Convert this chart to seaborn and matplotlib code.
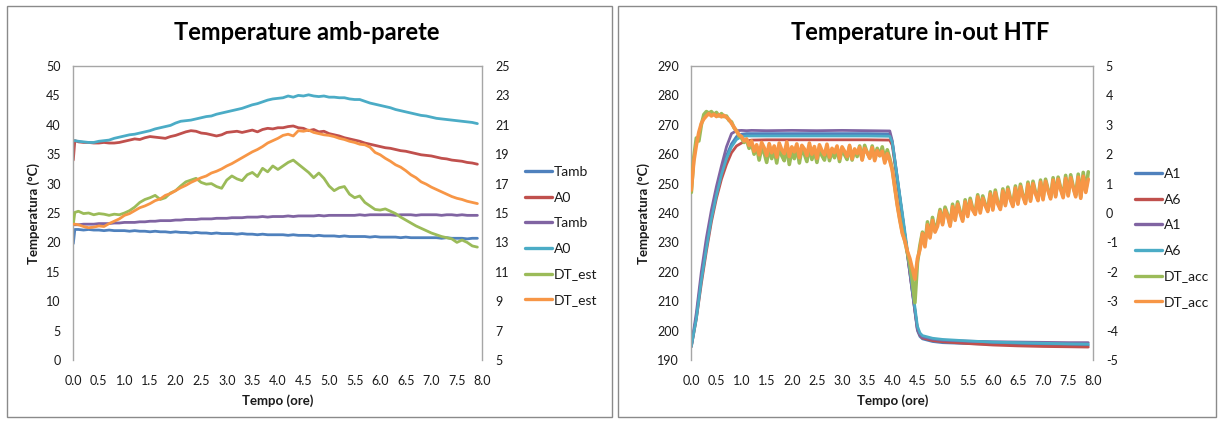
import numpy as np
import matplotlib
matplotlib.use("Agg")
import matplotlib.pyplot as plt
import seaborn as sns
from matplotlib.lines import Line2D
from matplotlib.patches import Rectangle

sns.set_style("white")
plt.rcParams["font.family"] = ["Lato", "DejaVu Sans"]
plt.rcParams["axes.unicode_minus"] = False

# ---------------- data: ambient / wall temperatures ----------------
T_AMB = np.concatenate([[0.0, 0.03], np.round(np.arange(1, 80) / 10, 1)])

TAMB_1 = [19.8, 22.2,
          22.2, 22.1, 22.2, 22.1, 22.1, 22.0, 22.1, 22.0, 22.0, 22.0,
          21.9, 22.0, 21.9, 21.9, 21.8, 21.9, 21.8, 21.8, 21.7, 21.8,
          21.7, 21.7, 21.6, 21.7, 21.6, 21.6, 21.5, 21.6, 21.5, 21.5,
          21.5, 21.4, 21.5, 21.4, 21.4, 21.3, 21.4, 21.3, 21.3, 21.3,
          21.3, 21.2, 21.3, 21.2, 21.2, 21.2, 21.1, 21.2, 21.1, 21.1,
          21.1, 21.0, 21.1, 21.0, 21.0, 21.0, 21.0, 20.9, 21.0, 20.9,
          20.9, 20.9, 20.9, 20.8, 20.9, 20.8, 20.8, 20.8, 20.8, 20.8,
          20.8, 20.7, 20.8, 20.7, 20.7, 20.7, 20.6, 20.7, 20.7]

A0_1 = [34.0, 37.3,
        37.1, 37.0, 37.0, 36.9, 36.9, 37.0, 36.9, 36.9, 37.0, 37.2,
        37.4, 37.6, 37.5, 37.8, 38.0, 37.9, 37.8, 37.7, 38.0, 38.2,
        38.5, 38.8, 39.0, 38.9, 38.6, 38.5, 38.3, 38.1, 38.3, 38.7,
        38.8, 38.9, 38.7, 38.9, 39.1, 38.8, 39.2, 39.4, 39.3, 39.5,
        39.5, 39.7, 39.8, 39.5, 39.4, 39.0, 39.2, 38.8, 38.9, 38.5,
        38.3, 38.1, 37.8, 37.6, 37.4, 37.2, 36.9, 36.7, 36.5, 36.3,
        36.1, 36.0, 35.8, 35.6, 35.5, 35.3, 35.1, 34.9, 34.8, 34.7,
        34.5, 34.3, 34.2, 34.0, 33.9, 33.8, 33.6, 33.5, 33.3]

TAMB_2 = [23.0, 23.0,
          23.0, 23.1, 23.1, 23.1, 23.2, 23.2, 23.2, 23.3, 23.3, 23.4,
          23.4, 23.4, 23.5, 23.5, 23.6, 23.6, 23.7, 23.7, 23.7, 23.8,
          23.8, 23.9, 23.9, 23.9, 24.0, 24.0, 24.0, 24.1, 24.1, 24.1,
          24.2, 24.2, 24.2, 24.3, 24.3, 24.3, 24.4, 24.3, 24.4, 24.4,
          24.4, 24.5, 24.4, 24.5, 24.5, 24.5, 24.5, 24.6, 24.5, 24.6,
          24.6, 24.6, 24.6, 24.6, 24.6, 24.7, 24.6, 24.7, 24.7, 24.7,
          24.7, 24.7, 24.6, 24.7, 24.7, 24.7, 24.6, 24.7, 24.7, 24.7,
          24.7, 24.6, 24.7, 24.7, 24.6, 24.7, 24.6, 24.6, 24.6]

A0_2 = [37.3, 37.3,
        37.2, 37.1, 37.0, 37.0, 37.2, 37.3, 37.4, 37.7, 37.9, 38.1,
        38.3, 38.4, 38.6, 38.8, 39.0, 39.3, 39.5, 39.7, 39.9, 40.3,
        40.6, 40.7, 40.8, 41.0, 41.2, 41.4, 41.5, 41.8, 42.0, 42.2,
        42.4, 42.6, 42.8, 43.1, 43.4, 43.6, 43.9, 44.2, 44.4, 44.5,
        44.6, 44.9, 44.7, 45.0, 44.9, 45.1, 44.9, 44.8, 44.9, 44.7,
        44.7, 44.6, 44.6, 44.4, 44.3, 44.3, 44.0, 43.7, 43.5, 43.3,
        43.1, 42.9, 42.6, 42.4, 42.2, 42.0, 41.8, 41.6, 41.5, 41.3,
        41.1, 41.0, 40.9, 40.8, 40.7, 40.6, 40.5, 40.4, 40.2]

# temperature differences (secondary axis)
DT_EST_1 = [14.24, 15.04,
            15.12, 14.96, 15.00, 14.88, 14.96, 14.92, 14.84, 14.92, 14.88, 15.00,
            15.16, 15.40, 15.72, 15.92, 16.04, 16.20, 15.92, 16.04, 16.36, 16.52,
            16.84, 17.12, 17.24, 17.36, 17.08, 16.96, 17.00, 16.80, 16.68, 17.24,
            17.52, 17.32, 17.20, 17.60, 17.76, 17.48, 18.04, 17.80, 18.20, 17.96,
            18.20, 18.44, 18.60, 18.32, 18.04, 17.76, 17.40, 17.72, 17.36, 16.84,
            16.52, 16.72, 16.80, 16.28, 16.04, 16.16, 15.72, 15.48, 15.24, 15.20,
            15.28, 15.12, 14.96, 14.72, 14.52, 14.32, 14.12, 13.96, 13.80, 13.64,
            13.52, 13.40, 13.32, 13.24, 13.00, 13.16, 13.00, 12.76, 12.68]

DT_EST_2 = [14.24, 14.24,
            14.20, 14.08, 14.00, 14.04, 14.12, 14.08, 14.28, 14.44, 14.60, 14.84,
            14.96, 15.16, 15.36, 15.48, 15.64, 15.84, 15.96, 16.20, 16.32, 16.52,
            16.72, 16.88, 17.08, 17.24, 17.40, 17.52, 17.72, 17.84, 18.00, 18.20,
            18.36, 18.56, 18.76, 18.96, 19.16, 19.32, 19.52, 19.76, 19.92, 20.08,
            20.28, 20.36, 20.24, 20.60, 20.56, 20.64, 20.48, 20.40, 20.32, 20.28,
            20.20, 20.08, 20.00, 19.88, 19.80, 19.68, 19.64, 19.48, 19.12, 18.96,
            18.72, 18.52, 18.28, 18.12, 17.88, 17.60, 17.40, 17.12, 16.96, 16.76,
            16.60, 16.44, 16.28, 16.12, 16.00, 15.92, 15.80, 15.72, 15.64]

# ---------------- data: HTF inlet / outlet ----------------
T_HTF = [0.0, 0.1, 0.2, 0.3, 0.4, 0.5, 0.6, 0.7, 0.8, 0.9, 1.0, 1.1, 1.2,
         1.5, 2.0, 2.5, 3.0, 3.5, 3.95, 4.0, 4.1, 4.2, 4.3, 4.4, 4.5, 4.55,
         4.6, 4.8, 5.0, 5.5, 6.0, 6.5, 7.0, 7.5, 7.9]

A1_1 = [194.6, 204.5, 218.0, 229.0, 239.0, 247.0, 254.0, 259.5, 263.5, 266.0,
        266.8, 267.0, 267.0, 267.0, 267.0, 267.0, 267.0, 267.0, 266.9, 264.0,
        251.5, 239.0, 226.0, 213.0, 200.0, 198.0, 197.2, 196.3, 195.9, 195.6,
        195.4, 195.3, 195.2, 195.1, 195.0]

A6_1 = [194.5, 204.0, 216.0, 227.0, 237.0, 245.0, 251.5, 256.5, 260.5, 262.8,
        263.8, 264.5, 264.8, 264.9, 264.9, 264.9, 264.9, 264.9, 264.8, 263.0,
        251.0, 239.0, 226.5, 213.5, 200.5, 198.5, 197.5, 196.6, 196.2, 195.6,
        195.1, 194.8, 194.6, 194.5, 194.4]

A1_2 = [194.8, 206.0, 220.0, 231.5, 241.0, 249.0, 256.0, 262.5, 267.0, 268.0,
        268.1, 268.0, 268.1, 268.0, 268.1, 268.0, 268.1, 268.0, 267.9, 264.5,
        252.0, 239.0, 226.0, 213.0, 200.5, 198.6, 197.8, 197.1, 196.7, 196.4,
        196.2, 196.1, 196.0, 195.9, 195.9]

A6_2 = [194.5, 204.0, 217.0, 228.0, 238.0, 246.0, 253.0, 258.5, 262.5, 265.0,
        266.0, 266.2, 266.2, 266.2, 266.2, 266.2, 266.2, 266.2, 266.1, 264.0,
        252.0, 240.0, 227.5, 214.5, 201.5, 199.2, 198.3, 197.4, 197.0, 196.5,
        196.1, 195.9, 195.7, 195.5, 195.4]

# sampled every 0.05 h from 0.00 to 7.90
T_ACC = np.round(np.arange(159) * 0.05, 2)

DT_ACC_1 = [0.70, 1.90, 2.55, 2.45, 3.00, 3.35, 3.45, 3.40, 3.45, 3.35,
            3.42, 3.30, 3.38, 3.28, 3.30, 3.15, 3.10, 2.90, 2.80, 2.62,
            2.55, 2.40, 2.48, 2.20,
            2.35, 2.00, 2.25, 1.80, 2.20, 2.05, 1.72, 2.22, 1.85, 2.15,
            1.70, 2.25, 1.95, 1.78, 2.28, 1.65, 2.10, 1.85, 2.22, 1.70,
            2.18, 2.00, 1.75, 2.25, 1.82, 2.12, 1.72, 2.20, 1.95, 1.80,
            2.24, 1.78, 2.10, 1.88, 2.20, 1.75, 2.18, 1.98, 1.82, 2.26,
            1.80, 2.15, 1.92, 2.28, 1.82, 2.30, 2.05, 1.88, 2.28, 1.85,
            2.20, 1.95, 2.25, 1.80, 2.15, 1.85,
            1.50, 0.90, 0.30, -0.20, -0.65, -0.95, -1.35, -1.75, -2.30, -3.05,
            -1.70, -1.10,
            -0.65, -1.05, -0.30, -0.80, -0.15, -0.60, -0.35, 0.12,
            -0.35, 0.20, -0.05, -0.40, 0.30, -0.20, 0.38, 0.05, -0.22, 0.45,
            -0.05, 0.50, 0.15, 0.00, 0.62, 0.08, 0.58, 0.30, 0.10, 0.72,
            0.15, 0.78, 0.35, 0.18, 0.82, 0.30, 0.88, 0.50, 0.28, 0.92,
            0.35, 0.98, 0.60, 0.38, 1.05, 0.45, 1.08, 0.70, 0.48, 1.12,
            0.50, 1.15, 0.80, 0.52, 1.20, 0.60, 1.22, 0.85, 0.58, 1.28,
            0.62, 1.30, 0.90, 0.60, 1.32, 0.55, 1.38, 0.75, 1.40]

DT_ACC_2 = [0.78, 1.75, 2.30, 2.75, 3.05, 3.20, 3.30, 3.38, 3.30, 3.36,
            3.28, 3.34, 3.27, 3.32, 3.25, 3.18, 3.05, 2.92, 2.78, 2.66,
            2.60, 2.45, 2.52, 2.30,
            2.45, 2.10, 2.32, 1.98, 2.40, 2.22, 1.95, 2.36, 2.05, 2.28,
            1.90, 2.38, 2.15, 2.02, 2.42, 1.92, 2.25, 2.08, 2.35, 1.88,
            2.30, 2.18, 1.95, 2.38, 2.00, 2.26, 1.86, 2.32, 2.12, 1.98,
            2.34, 1.90, 2.20, 2.05, 2.28, 1.85, 2.25, 2.10, 1.92, 2.30,
            1.84, 2.18, 2.02, 2.24, 1.80, 2.20, 2.06, 1.86, 2.22, 1.78,
            2.12, 1.95, 2.10, 1.70, 2.02, 1.78,
            1.45, 0.85, 0.25, -0.25, -0.70, -0.95, -1.30, -1.55, -1.90, -2.25,
            -1.55, -1.25,
            -0.70, -1.15, -0.40, -0.85, -0.25, -0.65, -0.45, 0.05,
            -0.40, 0.10, -0.10, -0.45, 0.22, -0.25, 0.30, 0.00, -0.28, 0.38,
            -0.12, 0.42, 0.10, -0.05, 0.55, 0.00, 0.50, 0.25, 0.05, 0.65,
            0.10, 0.70, 0.30, 0.12, 0.75, 0.25, 0.80, 0.45, 0.22, 0.85,
            0.30, 0.90, 0.55, 0.32, 0.98, 0.40, 1.00, 0.65, 0.42, 1.05,
            0.45, 1.08, 0.75, 0.48, 1.12, 0.55, 1.15, 0.80, 0.52, 1.18,
            0.58, 1.20, 0.85, 0.55, 1.22, 0.50, 1.25, 0.70, 1.15]

# ---------------- axis definitions ----------------
X_TICKS = np.round(np.arange(0, 8.01, 0.5), 1)
X_LABELS = [f"{v:.1f}" for v in X_TICKS]

AMB_TICKS = list(range(0, 51, 5))
AMB_GRID = [30, 35, 40, 45]
EST_TICKS = list(range(5, 26, 2))
EST_MARKS = [17, 19, 21, 23, 25]

HTF_TICKS = list(range(190, 291, 10))
HTF_GRID = [250, 260, 270, 280]
ACC_TICKS = list(range(-5, 6, 1))
ACC_MARKS = [1, 2, 3, 4, 5]

BLUE, RED, PURPLE = "#4F81BD", "#C0504D", "#8064A2"
TEAL, GREEN, ORANGE = "#4BACC6", "#9BBB59", "#F79646"
AXIS_GREY = "#A6A6A6"
GRID_GREY = "#A0A0A0"
TEXT = "#1a1a1a"
LW = 2.0

W, H = 1219, 423
fig = plt.figure(figsize=(W / 100, H / 100), dpi=100)


def px_box(x0, y0, x1, y1):
    return [x0 / W, 1 - y1 / H, (x1 - x0) / W, (y1 - y0) / H]


# chart frames
for x0, x1 in [(7, 612), (618, 1216)]:
    fig.add_artist(Rectangle((x0 / W, 1 - 417 / H), (x1 - x0) / W, 411 / H,
                             transform=fig.transFigure, fill=False,
                             edgecolor="#8a8a8a", lw=1.0))


def style_panel(ax, ax2, ylim, yticks, grid_vals, y2lim, y2ticks, marks):
    ax.set_xlim(0, 8)
    ax.set_ylim(*ylim)
    ax.set_xticks(X_TICKS)
    ax.set_xticklabels(X_LABELS)
    ax.set_yticks(yticks)
    ax.set_yticks(grid_vals, minor=True)
    ax.grid(False)
    ax.grid(True, which="minor", axis="y", color=GRID_GREY, lw=1.0)
    ax.set_axisbelow(True)
    ax.tick_params(axis="both", which="both", length=0, labelsize=9,
                   labelcolor=TEXT)
    ax.tick_params(axis="y", pad=9)
    ax.tick_params(axis="x", pad=11)
    for side in ["left", "top"]:
        ax.spines[side].set_visible(True)
        ax.spines[side].set_color(AXIS_GREY)
        ax.spines[side].set_linewidth(1.0)
    ax.spines["bottom"].set_visible(False)
    ax.spines["right"].set_visible(False)

    ax2.set_ylim(*y2lim)
    ax2.set_yticks(y2ticks)
    ax2.set_yticks(marks, minor=True)
    ax2.tick_params(axis="y", which="major", length=0, pad=9, labelsize=9,
                    labelcolor=TEXT)
    ax2.tick_params(axis="y", which="minor", length=4, width=1.0,
                    color=GRID_GREY, direction="out")
    ax2.yaxis.set_minor_formatter(plt.NullFormatter())
    for side in ["left", "top", "bottom"]:
        ax2.spines[side].set_visible(False)
    ax2.spines["right"].set_visible(True)
    ax2.spines["right"].set_color(AXIS_GREY)
    ax2.spines["right"].set_linewidth(1.0)
    ax2.grid(False)


def draw(ax, x, y, color, lw=LW):
    sns.lineplot(x=x, y=y, ax=ax, color=color, lw=lw, estimator=None,
                 sort=False, legend=False)


def add_legend(labels, colors, x_px, y_px):
    handles = [Line2D([], [], color=c, lw=2.4) for c in colors]
    fig.legend(handles, labels, loc="upper left",
               bbox_to_anchor=(x_px / W, 1 - y_px / H), frameon=False,
               fontsize=10, handlelength=1.95, handletextpad=0.12,
               labelspacing=0.98, borderpad=0, borderaxespad=0,
               labelcolor=TEXT)


def label_axes(ax, x_center_px, ax_left_px, ax_width_px):
    ax.set_xlabel("Tempo (ore)", fontsize=9.5, fontweight="bold", color=TEXT)
    ax.set_ylabel("Temperatura (°C)", fontsize=9.5, fontweight="bold",
                  color=TEXT)
    ax.xaxis.label.set_va("center")
    ax.yaxis.label.set_va("center")
    ax.xaxis.set_label_coords(0.5, (360 - 401) / 294)
    ax.yaxis.set_label_coords((x_center_px - ax_left_px) / ax_width_px, 0.5)


# ---------------- left chart ----------------
axL = fig.add_axes(px_box(73.3, 66, 482.5, 360))
axL2 = axL.twinx()
draw(axL, T_AMB, TAMB_1, BLUE)
draw(axL, T_AMB, A0_1, RED)
draw(axL, T_AMB, TAMB_2, PURPLE)
draw(axL, T_AMB, A0_2, TEAL)
draw(axL2, T_AMB, DT_EST_1, GREEN)
draw(axL2, T_AMB, DT_EST_2, ORANGE)
style_panel(axL, axL2, (0, 50), AMB_TICKS, AMB_GRID, (5, 25), EST_TICKS,
            EST_MARKS)
label_axes(axL, 34, 73.3, 409.2)
axL2.set_ylabel("")
fig.text(307 / W, 1 - 33 / H, "Temperature amb-parete", ha="center",
         va="center", fontsize=17, fontweight="bold", color="#000000")
add_legend(["Tamb", "A0", "Tamb", "A0", "DT_est", "DT_est"],
           [BLUE, RED, PURPLE, TEAL, GREEN, ORANGE], 525, 166)

# ---------------- right chart ----------------
axR = fig.add_axes(px_box(691.3, 66, 1093.3, 360))
axR2 = axR.twinx()
draw(axR, T_HTF, A1_1, BLUE)
draw(axR, T_HTF, A6_1, RED)
draw(axR, T_HTF, A1_2, PURPLE)
draw(axR, T_HTF, A6_2, TEAL)
draw(axR2, T_ACC, DT_ACC_1, GREEN, 2.6)
draw(axR2, T_ACC, DT_ACC_2, ORANGE, 2.6)
style_panel(axR, axR2, (190, 290), HTF_TICKS, HTF_GRID, (-5, 5), ACC_TICKS,
            ACC_MARKS)
label_axes(axR, 644, 691.3, 402)
axR2.set_ylabel("")
fig.text(920 / W, 1 - 33 / H, "Temperature in-out HTF", ha="center",
         va="center", fontsize=17, fontweight="bold", color="#000000")
add_legend(["A1", "A6", "A1", "A6", "DT_acc", "DT_acc"],
           [BLUE, RED, PURPLE, TEAL, GREEN, ORANGE], 1135, 168)

fig.savefig("out.png", dpi=100)
